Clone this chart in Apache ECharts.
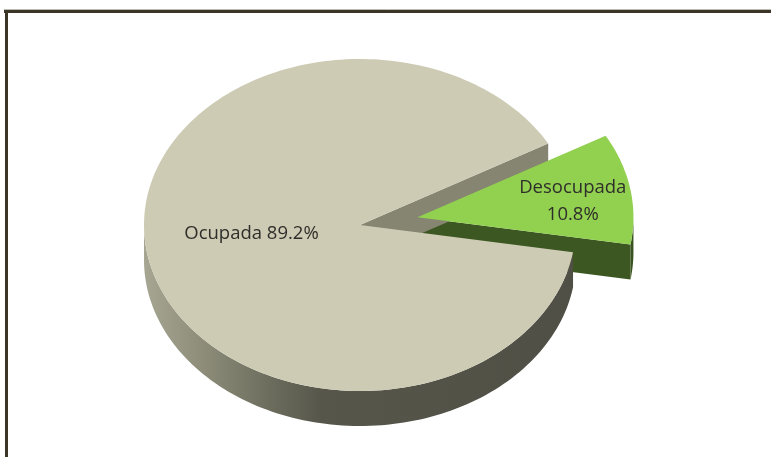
<!DOCTYPE html>
<html>
<head>
<meta charset="utf-8">
<script src="https://cdn.jsdelivr.net/npm/echarts@6/dist/echarts.min.js"></script>
<style>
  html, body { margin: 0; padding: 0; background: #ffffff; }
  #chart { width: 771px; height: 457px; }
</style>
</head>
<body>
<div id="chart"></div>
<script>
// Población según condición de ocupación
const categories = ['Ocupada', 'Desocupada'];
const values = [89.2, 10.8];
const exploded = [0, 0.27];          // radial pull-out, as a fraction of the radius

// Look of the tilted pie
const topColors = ['#CDCBB4', '#92D050'];
const edgeColors = ['#858571', '#3C5721'];
const wallColors = [null, '#39521F'];
const labelFraction = [0.51, 0.73];
const labelShiftY = [-6, 5];

const CX = 360, CY = 225, RX = 216, RY = 166, DEPTH = 35;
const START = 29.4;                   // math angle (deg, counter-clockwise from east)
const total = values.reduce((a, b) => a + b, 0);

function pt(ox, oy, deg, dy) {
  const r = deg * Math.PI / 180;
  return [ox + RX * Math.cos(r), oy - RY * Math.sin(r) + (dy || 0)];
}
function arc(ox, oy, a, b, dy) {
  const out = [];
  const n = Math.max(2, Math.ceil(Math.abs(b - a) / 1.5));
  for (let i = 0; i <= n; i++) out.push(pt(ox, oy, a + (b - a) * i / n, dy));
  return out;
}

const wallGradient = new echarts.graphic.LinearGradient(CX - RX, 0, CX + RX, 0, [
  { offset: 0.00, color: '#a6a693' },
  { offset: 0.15, color: '#8a8a77' },
  { offset: 0.29, color: '#6d6d5e' },
  { offset: 0.41, color: '#56564b' },
  { offset: 1.00, color: '#4f4f45' }
], true);

function renderSlice(params, api) {
  const i = params.dataIndex;
  const v = api.value(0);
  let before = 0;
  for (let k = 0; k < i; k++) before += values[k];
  const a = START + before / total * 360;
  const b = a + v / total * 360;
  const mid = (a + b) / 2;
  const mr = mid * Math.PI / 180;
  const ox = CX + exploded[i] * RX * Math.cos(mr);
  const oy = CY - exploded[i] * RY * Math.sin(mr);
  const isFront = i === 0;
  const children = [];

  // outer wall, only the part facing the viewer (lower half of the ellipse)
  const segs = [];
  for (let base = 0; base <= 720; base += 360) {
    const lo = Math.max(a, base + 180), hi = Math.min(b, base + 360);
    if (hi > lo) segs.push([lo, hi]);
  }
  segs.forEach(function (s) {
    const top = arc(ox, oy, s[0], s[1], 0);
    const bot = arc(ox, oy, s[1], s[0], DEPTH);
    children.push({
      type: 'polygon', z2: isFront ? 2 : 1,
      shape: { points: top.concat(bot) },
      style: { fill: isFront ? wallGradient : wallColors[i] }
    });
  });

  // cut faces along the radial edges that face the viewer
  [[a, a - 90], [b, b + 90]].forEach(function (e) {
    if (Math.sin(e[1] * Math.PI / 180) < 0) {
      const rim = pt(ox, oy, e[0], 0);
      children.push({
        type: 'polygon', z2: isFront ? 3 : 1,
        shape: { points: [[ox, oy], rim, [rim[0], rim[1] + DEPTH], [ox, oy + DEPTH]] },
        style: { fill: edgeColors[i] }
      });
    }
  });

  // top face
  children.push({
    type: 'polygon', z2: isFront ? 5 : 4,
    shape: { points: [[ox, oy]].concat(arc(ox, oy, a, b, 0)) },
    style: { fill: topColors[i] }
  });

  // label
  const f = labelFraction[i];
  const lx = ox + f * RX * Math.cos(mr);
  const ly = oy - f * RY * Math.sin(mr) + labelShiftY[i];
  const pct = (v / total * 100).toFixed(1) + '%';
  children.push({
    type: 'text', z2: 10,
    x: lx, y: ly,
    style: {
      text: isFront ? categories[i] + ' ' + pct : categories[i] + '\n' + pct,
      fill: '#2e2e2a',
      font: '18.5px "Open Sans", "Liberation Sans", sans-serif',
      align: 'center', verticalAlign: 'middle',
      lineHeight: 27
    }
  });

  return { type: 'group', children: children };
}

const chart = echarts.init(document.getElementById('chart'), null, { renderer: 'canvas' });
chart.setOption({
  backgroundColor: '#ffffff',
  animation: false,
  graphic: [
    { type: 'line', shape: { x1: 4, y1: 9.5, x2: 771, y2: 9.5 }, style: { stroke: '#bcbcb4', lineWidth: 1 }, z: 0 },
    { type: 'line', shape: { x1: 4, y1: 11.5, x2: 771, y2: 11.5 }, style: { stroke: '#3a3527', lineWidth: 3 }, z: 0 },
    { type: 'line', shape: { x1: 6.5, y1: 10, x2: 6.5, y2: 457 }, style: { stroke: '#3a3527', lineWidth: 3 }, z: 0 }
  ],
  series: [{
    type: 'custom',
    coordinateSystem: 'none',
    renderItem: renderSlice,
    data: values.map(function (v, i) { return { name: categories[i], value: [v] }; })
  }]
});
</script>
</body>
</html>
